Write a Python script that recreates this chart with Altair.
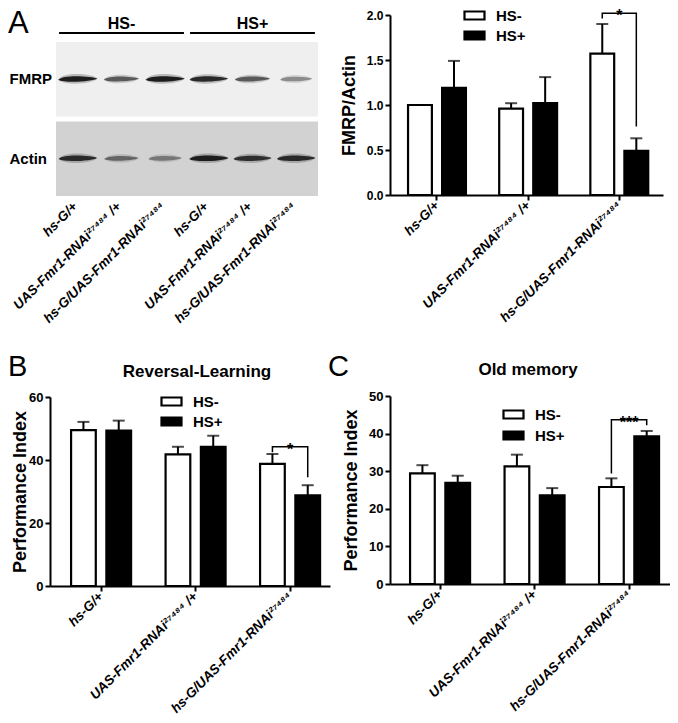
import json
import altair as alt
import pandas as pd

FONT = "Liberation Sans"
W, H = 662, 707

SUP = "\u00b2\u2077\u2074\u2078\u2074"  # 27484 as superscript
genotypes = ["hs-G/+", f"UAS-Fmr1-RNAi{SUP} /+", f"hs-G/UAS-Fmr1-RNAi{SUP}"]
conditions = ["HS-", "HS+"]

# ---------------- Panel A : western blot ----------------
blot_lanes = [1, 2, 3, 4, 5, 6]
blot_lane_genotype = genotypes + genotypes
blot_lane_condition = ["HS-"] * 3 + ["HS+"] * 3
blot_rows = ["FMRP", "Actin"]
fmrp_band_intensity = [0.95, 0.72, 0.95, 0.90, 0.72, 0.55]
actin_band_intensity = [0.90, 0.68, 0.62, 0.95, 0.88, 0.90]

# ---------------- Panel A : FMRP/Actin ratio ----------------
fmrp_hs_minus = [1.00, 0.96, 1.57]
fmrp_hs_minus_sem = [0.00, 0.06, 0.33]
fmrp_hs_plus = [1.19, 1.02, 0.49]
fmrp_hs_plus_sem = [0.30, 0.29, 0.14]
fmrp_sig = {"genotype": genotypes[2], "level": 2.02, "left_end": 1.96, "right_end": 0.76, "label": "*"}

# ---------------- Panel B : Reversal-Learning ----------------
rev_hs_minus = [49.5, 41.8, 38.8]
rev_hs_minus_sem = [2.6, 2.4, 3.1]
rev_hs_plus = [49.3, 44.2, 28.8]
rev_hs_plus_sem = [3.2, 3.5, 3.2]
rev_sig = {"genotype": genotypes[2], "level": 44.2, "left_end": 42.5, "right_end": 34.5, "label": "*"}

# ---------------- Panel C : Old memory ----------------
old_hs_minus = [29.4, 31.3, 25.8]
old_hs_minus_sem = [2.2, 3.1, 2.3]
old_hs_plus = [26.9, 23.6, 39.3]
old_hs_plus_sem = [1.9, 1.9, 1.4]
old_sig = {"genotype": genotypes[2], "level": 43.7, "left_end": 29.4, "right_end": 42.2, "label": "***"}


# ======================= blot panel =======================
lane_scale = alt.Scale(domain=[0.5, 6.5], range=[48, 310], nice=False, zero=False)
row_scale = alt.Scale(domain=blot_rows, range=[34, 188], paddingInner=0.06, paddingOuter=0)

lane_axis = alt.Axis(
    orient="bottom", offset=196 - H, title=None, values=blot_lanes,
    labelExpr=json.dumps(blot_lane_genotype, ensure_ascii=False) + "[datum.value - 1]",
    domain=False, ticks=False, grid=False, labelAngle=-45, labelAlign="right", labelBaseline="middle",
    labelFontStyle="italic", labelFontWeight="bold", labelFontSize=13.5, labelPadding=0,
    labelLimit=400, labelOffset=-3, labelOverlap=False,
)
row_axis = alt.Axis(
    orient="left", offset=-42, title=None, domain=False, ticks=False, grid=False,
    labelAlign="left", labelPadding=41, labelFontSize=15, labelFontWeight="bold",
)


def LANE(field):
    return alt.X(field, scale=lane_scale, axis=lane_axis)


def ROW():
    return alt.Y("row:N", sort=blot_rows, scale=row_scale, axis=row_axis)


bg_df = pd.DataFrame({
    "row": blot_rows,
    "x0": [min(blot_lanes) - 0.5] * len(blot_rows),
    "x1": [max(blot_lanes) + 0.5] * len(blot_rows),
})
blot_bg = alt.Chart(bg_df).mark_rect().encode(
    x=LANE("x0:Q"), x2="x1:Q", y=ROW(),
    color=alt.Color("row:N", sort=blot_rows,
                    scale=alt.Scale(domain=blot_rows, range=["#efefef", "#d2d2d2"]), legend=None),
)

band_df = pd.DataFrame({
    "lane": blot_lanes * 2,
    "row": ["FMRP"] * 6 + ["Actin"] * 6,
    "intensity": fmrp_band_intensity + actin_band_intensity,
})
BAND_PATH = "M-1,0.02 C-0.75,-0.26 0.7,-0.16 1,-0.04 C0.75,0.12 -0.7,0.2 -1,0.02 Z"
HALO_PATH = "M-1,0.02 C-0.75,-0.40 0.7,-0.30 1,-0.04 C0.75,0.26 -0.7,0.34 -1,0.02 Z"
band_size = alt.Size("intensity:Q", scale=alt.Scale(domain=[0.5, 1], range=[950, 1600]), legend=None)
band_fill = alt.Fill("intensity:Q", scale=alt.Scale(domain=[0.5, 1], range=["#9a9a9a", "#101010"]), legend=None)
blot_halo = alt.Chart(band_df).mark_point(shape=HALO_PATH, filled=True, opacity=0.25, strokeWidth=0).encode(
    x=LANE("lane:Q"), y=ROW(), size=band_size, fill=band_fill,
)
blot_bands = alt.Chart(band_df).mark_point(shape=BAND_PATH, filled=True, opacity=1, strokeWidth=0).encode(
    x=LANE("lane:Q"), y=ROW(), size=band_size, fill=band_fill,
)

grp = pd.DataFrame({"condition": blot_lane_condition, "lane": blot_lanes})
grp = grp.groupby("condition", sort=False).agg(first=("lane", "min"), last=("lane", "max")).reset_index()
grp["x0"] = grp["first"] - 0.43
grp["x1"] = grp["last"] + 0.43
grp["mid"] = (grp["first"] + grp["last"]) / 2

blot_lines = alt.Chart(grp).mark_rule(strokeWidth=2, color="black").encode(
    x=LANE("x0:Q"), x2="x1:Q", y=alt.value(25)
)
blot_grp_text = alt.Chart(grp).mark_text(fontSize=16, fontWeight="bold", baseline="alphabetic", color="black").encode(
    x=LANE("mid:Q"), y=alt.value(21), text="condition:N"
)
blot_panel = alt.layer(blot_bg, blot_halo, blot_bands, blot_lines, blot_grp_text)


# ======================= bar panels =======================
def bar_panel(minus, minus_sem, plus, plus_sem, sig, *, y_domain, y_range, y_values, y_format,
              y_title, y_label_size, title_pad, x_range, x_pad_outer, x_align,
              legend_x, legend_y, legend_pad):
    df = pd.DataFrame({
        "genotype": genotypes * 2,
        "condition": ["HS-"] * 3 + ["HS+"] * 3,
        "value": minus + plus,
        "sem": minus_sem + plus_sem,
    })
    df["upper"] = df["value"] + df["sem"]

    xs = alt.Scale(domain=genotypes, range=x_range, paddingInner=0.365,
                   paddingOuter=x_pad_outer, align=x_align)
    xo = alt.Scale(domain=conditions, paddingInner=0.3, paddingOuter=0)
    ys = alt.Scale(domain=y_domain, range=y_range, nice=False, zero=False)

    x_axis = alt.Axis(
        orient="bottom", offset=y_range[0] - H, title=None, grid=False,
        labelAngle=-45, labelAlign="right", labelBaseline="middle",
        labelFontStyle="italic", labelFontWeight="bold", labelFontSize=13.5,
        labelPadding=3, labelLimit=400, labelOverlap=False,
        tickSize=5, tickWidth=2, domainWidth=2,
    )
    y_axis = alt.Axis(
        orient="left", offset=-x_range[0], title=y_title, values=y_values, format=y_format,
        grid=False, labelFontSize=y_label_size, labelFontWeight="bold", labelPadding=2,
        titleFontSize=18, titleFontWeight="bold", titlePadding=title_pad,
        tickSize=5, tickWidth=2, domainWidth=2,
    )

    def X():
        return alt.X("genotype:N", sort=genotypes, scale=xs, axis=x_axis)

    def Y(field):
        return alt.Y(field, scale=ys, axis=y_axis)

    XO = alt.XOffset("condition:N", sort=conditions, scale=xo)

    bars = alt.Chart(df).mark_bar(stroke="black", strokeWidth=2.2).encode(
        x=X(), xOffset=XO, y=Y("value:Q"),
        fill=alt.Fill("condition:N", sort=conditions,
                      scale=alt.Scale(domain=conditions, range=["white", "black"]),
                      legend=alt.Legend(
                          orient="none", legendX=legend_x, legendY=legend_y, title=None,
                          symbolType="M-1,-0.4H1V0.4H-1Z", symbolSize=400,
                          symbolStrokeColor="black", symbolStrokeWidth=2.2,
                          labelFontSize=15, labelFontWeight="bold", labelFont=FONT,
                          labelColor="black", labelOffset=10, rowPadding=legend_pad,
                      )),
    )
    err = alt.Chart(df).mark_rule(strokeWidth=2, color="black").encode(
        x=X(), xOffset=XO, y=Y("value:Q"), y2="upper:Q",
    )
    caps = alt.Chart(df).mark_tick(size=12, thickness=2, color="black").encode(
        x=X(), xOffset=XO, y=Y("upper:Q"),
    )
    sig_df = pd.DataFrame({
        "genotype": [sig["genotype"]] * 4,
        "condition": ["HS-", "HS-", "HS+", "HS+"],
        "y": [sig["left_end"], sig["level"], sig["level"], sig["right_end"]],
        "order": [0, 1, 2, 3],
    })
    bracket = alt.Chart(sig_df).mark_line(color="black", strokeWidth=1.5).encode(
        x=X(), xOffset=XO, y=Y("y:Q"), order="order:Q",
    )
    star = alt.Chart(pd.DataFrame([sig])).mark_text(
        fontSize=16, fontWeight="bold", baseline="alphabetic", dy=8, color="black"
    ).encode(
        x=X(), y=Y("level:Q"), text="label:N",
    )
    return alt.layer(bars, err, caps, bracket, star)


panel_a = bar_panel(
    fmrp_hs_minus, fmrp_hs_minus_sem, fmrp_hs_plus, fmrp_hs_plus_sem, fmrp_sig,
    y_domain=[0, 2], y_range=[187, 7], y_values=[0, 0.5, 1, 1.5, 2], y_format=".1f",
    y_title="FMRP/Actin", y_label_size=12, title_pad=8,
    x_range=[382, 655], x_pad_outer=0.18, x_align=0.55,
    legend_x=455, legend_y=-4, legend_pad=0,
)
panel_b = bar_panel(
    rev_hs_minus, rev_hs_minus_sem, rev_hs_plus, rev_hs_plus_sem, rev_sig,
    y_domain=[0, 60], y_range=[578, 389], y_values=[0, 20, 40, 60], y_format="d",
    y_title="Performance Index", y_label_size=13, title_pad=-1,
    x_range=[42, 322], x_pad_outer=0.164, x_align=0.68,
    legend_x=152, legend_y=382, legend_pad=0,
)
panel_c = bar_panel(
    old_hs_minus, old_hs_minus_sem, old_hs_plus, old_hs_plus_sem, old_sig,
    y_domain=[0, 50], y_range=[576, 388], y_values=[0, 10, 20, 30, 40, 50], y_format="d",
    y_title="Performance Index", y_label_size=13, title_pad=8,
    x_range=[382, 665], x_pad_outer=0.18, x_align=0.59,
    legend_x=494, legend_y=395, legend_pad=1,
)


# ======================= annotations =======================
def label(txt, x, y, size, weight="normal", align="left"):
    return alt.Chart(pd.DataFrame({"t": [txt]})).mark_text(
        fontSize=size, fontWeight=weight, align=align, baseline="alphabetic", color="black"
    ).encode(text="t:N", x=alt.value(x), y=alt.value(y))


annotations = [
    label("A", 0, 25, 31),
    label("B", 0, 368, 29),
    label("C", 320, 368, 29),
    label("Reversal-Learning", 189, 369, 17, "bold", "center"),
    label("Old memory", 520, 367, 17, "bold", "center"),
]

chart = (
    alt.layer(blot_panel, panel_a, panel_b, panel_c, *annotations)
    .resolve_scale(x="independent", y="independent", xOffset="independent",
                   fill="independent", color="independent", size="independent")
    .resolve_axis(x="independent", y="independent")
    .resolve_legend(fill="independent")
    .properties(width=W, height=H, autosize=alt.AutoSizeParams(type="none"), padding=0)
    .configure(font=FONT)
    .configure_view(stroke=None)
    .configure_axis(grid=False, domainColor="black", tickColor="black", labelColor="black",
                    titleColor="black", labelFont=FONT, titleFont=FONT)
)

chart.save("out.html", embed_options={"renderer": "svg", "actions": False})
